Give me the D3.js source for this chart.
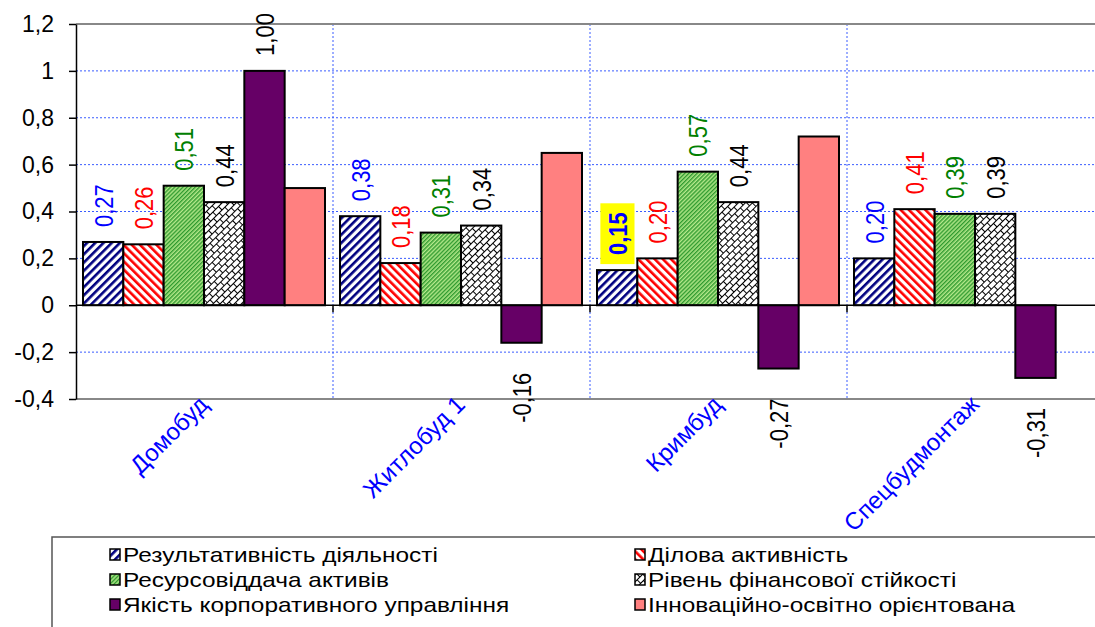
<!DOCTYPE html>
<html>
<head>
<meta charset="utf-8">
<script src="https://cdn.jsdelivr.net/npm/d3@7"></script>
<style>
  body { margin: 0; background: #fff; }
  svg { display: block; font-family: "Liberation Sans", Arial, sans-serif; }
</style>
</head>
<body>
<div id="chart"></div>
<script>
// data
var categories = ["Домобуд", "Житлобуд 1", "Кримбуд", "Спецбудмонтаж"];
var seriesNames = ["Результативність діяльності", "Ділова активність", "Ресурсовіддача активів",
                   "Рівень фінансової стійкості", "Якість корпоративного управління", "Інноваційно-освітно орієнтована"];
var resultVals = [0.27, 0.38, 0.15, 0.20];
var businessVals = [0.26, 0.18, 0.20, 0.41];
var resourceVals = [0.51, 0.31, 0.57, 0.39];
var stabilityVals = [0.44, 0.34, 0.44, 0.39];
var governanceVals = [1.00, -0.16, -0.27, -0.31];
var innovationVals = [0.50, 0.65, 0.72, null];
var yTicks = [-0.4, -0.2, 0, 0.2, 0.4, 0.6, 0.8, 1, 1.2];
var highlighted = [[2, 0]]; // category, series -> yellow bold label

var allVals = [resultVals, businessVals, resourceVals, stabilityVals, governanceVals, innovationVals];
var fills = ["url(#pBlue)", "url(#pRed)", "url(#pGreen)", "url(#pBrick)", "#660066", "#ff8080"];
var labelColors = ["#0000ff", "#ff0000", "#008000", "#000", "#000", null];

var svg = d3.select("#chart").append("svg").attr("width", 1095).attr("height", 627);

// patterns
var defs = svg.append("defs");
function stripes(id, angle, w, bg, fg, sw) {
  var p = defs.append("pattern").attr("id", id).attr("patternUnits", "userSpaceOnUse")
    .attr("width", w).attr("height", w).attr("patternTransform", "rotate(" + angle + ")");
  p.append("rect").attr("width", w).attr("height", w).attr("fill", bg);
  p.append("rect").attr("width", sw).attr("height", w).attr("fill", fg);
}
stripes("pBlue", 45, 5.8, "#fff", "#000080", 2.6);
stripes("pRed", -45, 5.8, "#fff", "#ff0000", 2.6);
stripes("pGreen", 45, 2.9, "#b4e88a", "#2f9a2f", 1.4);
var brick = defs.append("pattern").attr("id", "pBrick").attr("patternUnits", "userSpaceOnUse")
  .attr("width", 8).attr("height", 10).attr("patternTransform", "rotate(-45)");
brick.append("rect").attr("width", 8).attr("height", 10).attr("fill", "#fff");
brick.append("path").attr("d", "M0,0.5H8M0,5.5H8M0.5,0V5M4.5,5V10")
  .attr("stroke", "#000").attr("stroke-width", 1).attr("fill", "none");

// scales
var plotL = 76, plotR = 1104, plotT = 24, plotB = 399;
var y = d3.scaleLinear().domain([-0.4, 1.2]).range([plotB, plotT]);
var x = d3.scaleBand().domain(categories).range([plotL, plotR]);
var xs = d3.scaleBand().domain(d3.range(6)).range([7, x.bandwidth() - 8]);

function fmt(v) { return v.toFixed(2).replace(".", ","); }

// gridlines
var grid = svg.append("g");
grid.selectAll(".hg").data(yTicks.filter(function (d) { return d !== 0 && d !== 1.2 && d !== -0.4; }))
  .enter().append("line")
  .attr("x1", plotL).attr("x2", plotR)
  .attr("y1", function (d) { return y(d); }).attr("y2", function (d) { return y(d); })
  .attr("stroke", "#3a5cff").attr("stroke-width", 1).attr("stroke-dasharray", "2,2");
grid.selectAll(".vg").data(categories.slice(1)).enter().append("line")
  .attr("x1", function (d) { return x(d); }).attr("x2", function (d) { return x(d); })
  .attr("y1", plotT).attr("y2", plotB)
  .attr("stroke", "#3a5cff").attr("stroke-width", 1).attr("stroke-dasharray", "2,2");

// plot border top/bottom
svg.append("line").attr("x1", plotL).attr("x2", plotR).attr("y1", plotT).attr("y2", plotT)
  .attr("stroke", "#888").attr("stroke-width", 2);
svg.append("line").attr("x1", plotL).attr("x2", plotR).attr("y1", plotB).attr("y2", plotB)
  .attr("stroke", "#888").attr("stroke-width", 2);

// bars
var bars = svg.append("g");
allVals.forEach(function (vals, s) {
  bars.selectAll(".b" + s).data(vals).enter()
    .filter(function (d) { return d !== null; })
    .append("rect")
    .attr("x", function (d, i) { return x(categories[i]) + xs(s); })
    .attr("width", xs.bandwidth())
    .attr("y", function (d) { return y(Math.max(0, d)); })
    .attr("height", function (d) { return Math.abs(y(d) - y(0)); })
    .attr("fill", fills[s])
    .attr("stroke", "#000").attr("stroke-width", 2);
});

// zero line + category ticks
svg.append("line").attr("x1", plotL).attr("x2", plotR).attr("y1", y(0)).attr("y2", y(0))
  .attr("stroke", "#000").attr("stroke-width", 1.5);
svg.selectAll(".ct").data(categories.slice(1)).enter().append("line")
  .attr("x1", function (d) { return x(d); }).attr("x2", function (d) { return x(d); })
  .attr("y1", y(0)).attr("y2", y(0) + 7)
  .attr("stroke", "#000").attr("stroke-width", 1.5);

// y axis
var yAxis = svg.append("g").attr("transform", "translate(" + plotL + ",0)")
  .call(d3.axisLeft(y).tickValues(yTicks).tickSize(7).tickSizeOuter(0).tickPadding(15)
    .tickFormat(function (d) { return String(+d.toFixed(1)).replace(".", ",").replace("−", "-"); }));
yAxis.select(".domain").attr("stroke", "#000").attr("stroke-width", 1.5);
yAxis.selectAll(".tick line").attr("stroke", "#000").attr("stroke-width", 1.5);
yAxis.selectAll(".tick text").attr("font-size", 23).attr("fill", "#000")
  .attr("font-family", "'Liberation Sans', Arial, sans-serif");

// data labels (slightly wide, like the source picture)
var labels = svg.append("g");
allVals.forEach(function (vals, s) {
  if (!labelColors[s]) return;
  vals.forEach(function (v, i) {
    if (v === null) return;
    var cx = x(categories[i]) + xs(s) + xs.bandwidth() / 2;
    var pos = v >= 0;
    var ly = pos ? y(v) - 15 : y(v) + 30;
    var hl = highlighted.some(function (h) { return h[0] === i && h[1] === s; });
    var g = labels.append("g").attr("transform", "translate(" + cx + "," + ly + ") scale(1.2,1) rotate(-90)");
    var t = g.append("text")
      .attr("text-anchor", pos ? "start" : "end")
      .attr("dy", "0.36em")
      .attr("font-size", 22)
      .attr("font-weight", hl ? "bold" : "normal")
      .attr("fill", labelColors[s])
      .text(fmt(v));
    if (hl) {
      var bb = t.node().getBBox();
      g.insert("rect", "text").attr("x", bb.x - 9).attr("y", bb.y - 2)
        .attr("width", bb.width + 18).attr("height", bb.height + 4).attr("fill", "#ffff00");
    }
  });
});

// category labels
svg.selectAll(".cl").data(categories).enter().append("text")
  .attr("transform", function (d) {
    return "translate(" + (x(d) + x.bandwidth() / 2 + 5) + ",406) rotate(-45)";
  })
  .attr("text-anchor", "end")
  .attr("font-size", 24)
  .attr("fill", "#0000ff")
  .text(function (d) { return d; });

// legend
svg.append("rect").attr("x", 52).attr("y", 537).attr("width", 1100).attr("height", 120)
  .attr("fill", "#fff").attr("stroke", "#555").attr("stroke-width", 1.5);
var legend = svg.append("g");
seriesNames.forEach(function (name, s) {
  var col = s % 2, row = Math.floor(s / 2);
  var lx = col === 0 ? 110 : 635;
  var ly = 555 + row * 25;
  legend.append("rect").attr("x", lx).attr("y", ly - 6).attr("width", 10).attr("height", 11)
    .attr("fill", fills[s]).attr("stroke", "#000").attr("stroke-width", 1.5);
  legend.append("text").attr("transform", "translate(" + (lx + 13) + "," + ly + ") scale(1.22,1)")
    .attr("dy", "0.36em")
    .attr("font-size", 20).attr("fill", "#000").text(name);
});
</script>
</body>
</html>
